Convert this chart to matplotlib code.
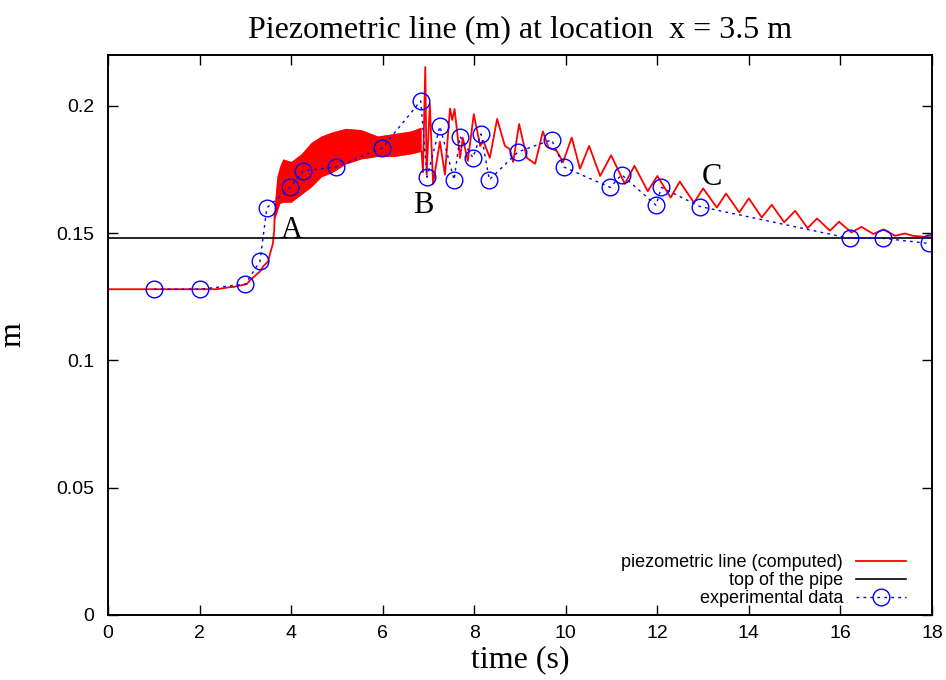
import matplotlib
matplotlib.use("Agg")
import matplotlib.pyplot as plt

# computed piezometric line: smooth rise before the oscillating band
rise_t = [0, 1, 2, 2.37, 2.66, 2.74, 3.03, 3.10, 3.32, 3.39, 3.5, 3.54, 3.60, 3.63, 3.64]
rise_y = [0.128, 0.128, 0.128, 0.128, 0.1288, 0.1289, 0.130, 0.1315, 0.1350, 0.137,
          0.139, 0.142, 0.1458, 0.151, 0.158]

# dense oscillation band (upper / lower envelope)
band_t = [3.64, 3.70, 3.76, 3.83, 4.01, 4.23, 4.45, 4.67, 4.89, 5.20, 5.54, 5.90, 6.27, 6.63, 6.85]
band_hi = [0.160, 0.172, 0.176, 0.179, 0.178, 0.181, 0.1855, 0.188, 0.1895, 0.191,
           0.1905, 0.188, 0.189, 0.1900, 0.1915]
band_lo = [0.155, 0.158, 0.1615, 0.162, 0.162, 0.165, 0.168, 0.172, 0.1735, 0.177,
           0.179, 0.180, 0.180, 0.181, 0.182]

# after the band: slower oscillations (peaks and troughs)
tail_t = [6.85, 6.88, 6.93, 6.96, 7.03, 7.10, 7.25, 7.36, 7.47, 7.52, 7.57, 7.69, 7.75,
          7.86, 7.99, 8.13, 8.20, 8.34, 8.50, 8.67, 8.78, 8.85, 8.98, 9.15, 9.33, 9.50,
          9.62, 9.80, 9.94, 10.13, 10.31, 10.51, 10.75, 10.99, 11.29, 11.50, 11.79, 12.0,
          12.29, 12.49, 12.8, 13.0, 13.3, 13.5, 13.79, 14.0, 14.28, 14.5, 14.77, 15.01,
          15.28, 15.49, 15.77, 15.97, 16.24, 16.46, 16.72, 16.94, 17.19, 17.41, 17.58, 17.96]
tail_y = [0.182, 0.174, 0.2153, 0.173, 0.2008, 0.1694, 0.186, 0.173, 0.199, 0.1945,
          0.1988, 0.1796, 0.1875, 0.1784, 0.1968, 0.1843, 0.1863, 0.1796, 0.1949, 0.1843,
          0.183, 0.178, 0.1929, 0.1796, 0.1773, 0.190, 0.1837, 0.1824, 0.178, 0.1876,
          0.1753, 0.1843, 0.1725, 0.1806, 0.1694, 0.1765, 0.1665, 0.1725, 0.164, 0.1703,
          0.162, 0.1676, 0.1601, 0.1656, 0.1582, 0.1637, 0.1562, 0.1612, 0.1543, 0.1588,
          0.1520, 0.1558, 0.151, 0.1545, 0.1503, 0.1525, 0.1497, 0.1515, 0.149, 0.1499,
          0.149, 0.1484]

pipe_top = 0.148

exp_t = [1.0, 2.0, 3.0, 3.32, 3.47, 3.98, 4.26, 4.98, 5.99, 6.83, 6.97, 7.25, 7.56,
         7.69, 7.97, 8.15, 8.33, 8.96, 9.69, 9.96, 10.97, 11.22, 11.97, 12.09, 12.93,
         16.2, 16.93, 17.93]
exp_y = [0.128, 0.128, 0.130, 0.139, 0.160, 0.168, 0.1745, 0.176, 0.1835, 0.202, 0.172,
         0.192, 0.171, 0.188, 0.1797, 0.189, 0.171, 0.182, 0.1867, 0.176, 0.168, 0.173,
         0.161, 0.168, 0.1605, 0.148, 0.148, 0.146]

xticks = [0, 2, 4, 6, 8, 10, 12, 14, 16, 18]
yticks = [0, 0.05, 0.1, 0.15, 0.2]
ytick_labels = ["0", "0.05", "0.1", "0.15", "0.2"]

serif = "Liberation Serif"
sans = "Liberation Sans"

plt.rcParams["hatch.linewidth"] = 1.2
plt.rcParams["hatch.color"] = "#ff0000"

fig = plt.figure(figsize=(9.46, 6.8), dpi=100)
ax = fig.add_axes([0.1142, 0.0956, 0.8710, 0.8234])

red = "#ff0000"
ax.plot(rise_t, rise_y, color=red, lw=1.3, label="piezometric line (computed)")
ax.fill_between(band_t, band_lo, band_hi, facecolor="#ff6060", edgecolor=red,
                hatch="|" * 20, lw=0)
ax.plot(tail_t, tail_y, color=red, lw=1.3)
ax.axhline(pipe_top, color="black", lw=1.2, label="top of the pipe")
ax.plot(exp_t, exp_y, color="blue", lw=1.0, ls=(0, (2, 3)), marker="o", ms=12,
        mfc="none", mec="blue", mew=1.0, label="experimental data")

ax.text(4.02, 0.151, "A", fontsize=22, family=serif, ha="center", va="center")
ax.text(6.88, 0.1608, "B", fontsize=22, family=serif, ha="center", va="center")
ax.text(13.19, 0.1718, "C", fontsize=22, family=serif, ha="center", va="center")

ax.set_xlim(0, 18)
ax.set_ylim(0, 0.22)
ax.set_xticks(xticks)
ax.set_yticks(yticks)
ax.set_yticklabels(ytick_labels)
ax.tick_params(direction="in", top=True, right=True, length=7, width=1,
               labelsize=14)
ax.tick_params(axis="y", pad=10)
ax.tick_params(axis="x", pad=7)
for lab in ax.get_xticklabels() + ax.get_yticklabels():
    lab.set_family(sans)
for sp in ax.spines.values():
    sp.set_linewidth(1.4)

ax.set_title("Piezometric line (m) at location  x = 3.5 m", family=serif,
             fontsize=23, pad=13)
ax.set_xlabel("time (s)", family=serif, fontsize=23)
ax.set_ylabel("m", family=serif, fontsize=23)
ax.yaxis.set_label_coords(-0.098, 0.5)
ax.xaxis.set_label_coords(0.5, -0.054)

ax.legend(loc="lower right", frameon=False, markerfirst=False, numpoints=1,
          prop={"family": sans, "size": 13}, handlelength=2.8,
          labelspacing=0.05, borderaxespad=0.3, handletextpad=0.7,
          bbox_to_anchor=(0.984, -0.008))

fig.savefig("out.png", dpi=100)
